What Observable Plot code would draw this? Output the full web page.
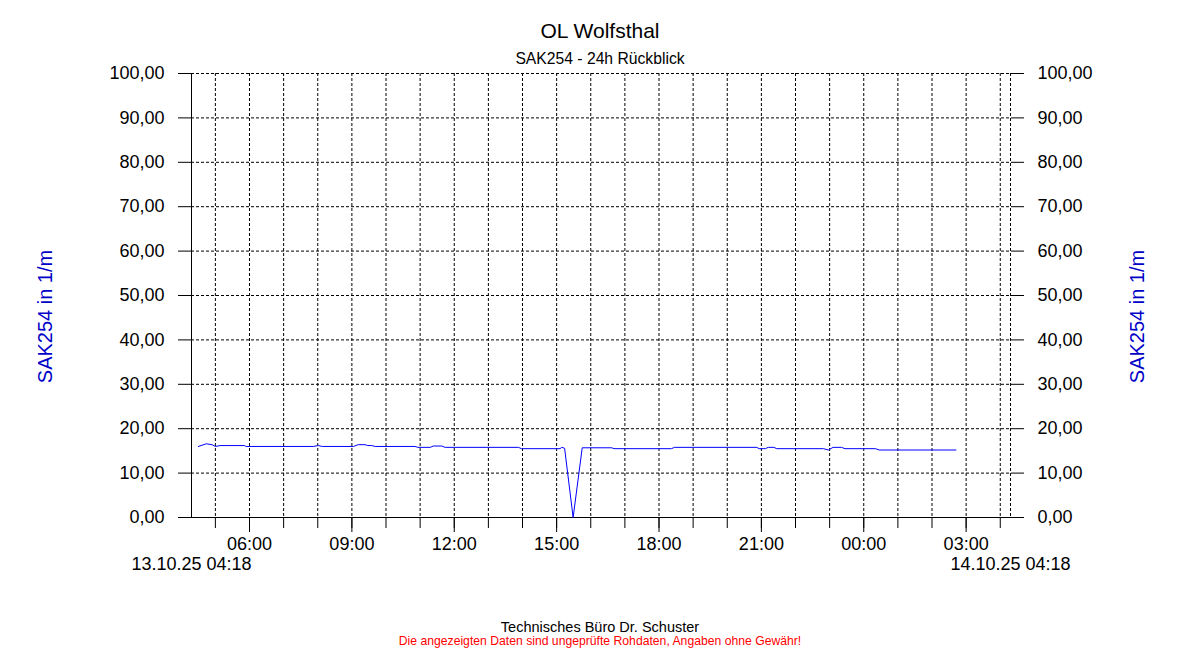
<!DOCTYPE html>
<html><head><meta charset="utf-8">
<script src="https://cdn.jsdelivr.net/npm/d3@7"></script>
<script src="https://cdn.jsdelivr.net/npm/@observablehq/plot@0.6"></script>
<style>
body{margin:0;background:#fff;font-family:"Liberation Sans",Arial,sans-serif;}
#wrap{position:relative;width:1200px;height:650px;overflow:hidden;}
#chart{position:absolute;left:0;top:0;}
.t{position:absolute;left:0;width:1200px;text-align:center;white-space:nowrap;line-height:1;}
</style></head><body>
<div id="wrap">
<div class="t" id="title" style="top:20px;font-size:21px;color:#000"></div>
<div class="t" id="subtitle" style="top:51px;font-size:15.7px;color:#000"></div>
<div class="t" id="foot1" style="top:620px;font-size:14.5px;color:#000"></div>
<div class="t" id="foot2" style="top:635px;font-size:12.2px;color:#FF0000"></div>
<div id="chart"></div>
</div>
<script>
const title = "OL Wolfsthal";
const subtitle = "SAK254 - 24h Rückblick";
const yLabel = "SAK254 in 1/m";
const footer1 = "Technisches Büro Dr. Schuster";
const footer2 = "Die angezeigten Daten sind ungeprüfte Rohdaten, Angaben ohne Gewähr!";
const startTime = "2025-10-13T04:18Z";
const endTime = "2025-10-14T04:18Z";
const startLabel = "13.10.25 04:18";
const endLabel = "14.10.25 04:18";
const yTicks = [0,10,20,30,40,50,60,70,80,90,100];

const times = ["2025-10-13T04:30","2025-10-13T04:44","2025-10-13T04:54","2025-10-13T05:00","2025-10-13T05:08","2025-10-13T05:51","2025-10-13T05:54","2025-10-13T07:52","2025-10-13T08:01","2025-10-13T08:08","2025-10-13T09:03","2025-10-13T09:11","2025-10-13T09:23","2025-10-13T09:28","2025-10-13T09:35","2025-10-13T09:41","2025-10-13T10:51","2025-10-13T10:56","2025-10-13T11:18","2025-10-13T11:23","2025-10-13T11:38","2025-10-13T11:44","2025-10-13T13:53","2025-10-13T13:58","2025-10-13T15:06","2025-10-13T15:09","2025-10-13T15:14","2025-10-13T15:29","2025-10-13T15:45","2025-10-13T16:37","2025-10-13T16:41","2025-10-13T18:22","2025-10-13T18:27","2025-10-13T20:52","2025-10-13T20:56","2025-10-13T21:07","2025-10-13T21:12","2025-10-13T21:22","2025-10-13T21:27","2025-10-13T22:49","2025-10-13T22:58","2025-10-13T23:06","2025-10-13T23:21","2025-10-13T23:27","2025-10-14T00:21","2025-10-14T00:27","2025-10-14T02:42"];
const values = [16.0,16.6,16.4,16.0,16.2,16.2,16.0,16.0,16.2,16.0,16.0,16.4,16.4,16.2,16.2,16.0,16.0,15.8,15.8,16.1,16.1,15.8,15.8,15.5,15.5,15.8,15.6,0,15.7,15.7,15.5,15.5,15.8,15.8,15.5,15.5,15.8,15.8,15.5,15.5,15.2,15.8,15.8,15.5,15.5,15.2,15.2];

document.getElementById("title").textContent = title;
document.getElementById("subtitle").textContent = subtitle;
document.getElementById("foot1").textContent = footer1;
document.getElementById("foot2").textContent = footer2;

const x0 = new Date(startTime), x1 = new Date(endTime);
const data = times.map((t, i) => ({t: new Date(t + "Z"), v: values[i]}));
const fmt = d => d.toFixed(2).replace(".", ",");
const hourTicks = d3.utcHour.range(x0, x1);
const labelTicks = d3.utcHour.every(3).range(x0, x1);
const ends = [{t: x0, label: startLabel}, {t: x1, label: endLabel}];
const dash = "3,2";

const chart = Plot.plot({
  width: 1200, height: 650,
  marginLeft: 191, marginRight: 190, marginTop: 73, marginBottom: 133,
  style: {fontFamily: "'Liberation Sans', Arial, sans-serif", background: "transparent", color: "black"},
  x: {type: "utc", domain: [x0, x1]},
  y: {domain: [0, 100]},
  marks: [
    Plot.gridY(yTicks, {stroke: "black", strokeOpacity: 1, strokeDasharray: dash}),
    Plot.gridX(hourTicks, {stroke: "black", strokeOpacity: 1, strokeDasharray: dash}),
    Plot.ruleX([x1], {stroke: "black", strokeDasharray: dash}),
    Plot.ruleX([x0], {stroke: "black"}),
    Plot.ruleY([0], {stroke: "black", insetLeft: -13, insetRight: -13}),
    Plot.axisY(yTicks, {anchor: "left", tickSize: 13, tickPadding: 14, tickFormat: fmt, fontSize: 18, label: null}),
    Plot.axisY(yTicks, {anchor: "right", tickSize: 13, tickPadding: 14, tickFormat: fmt, fontSize: 18, label: null}),
    Plot.axisX(hourTicks, {tickSize: 11, tickFormat: () => "", label: null}),
    Plot.axisX(labelTicks, {tickSize: 15, tickPadding: 5, tickFormat: d3.utcFormat("%H:%M"), fontSize: 18, label: null}),
    Plot.line(data, {x: "t", y: "v", stroke: "#0000FF", strokeWidth: 1}),
    Plot.text(ends, {x: "t", text: "label", frameAnchor: "bottom", dy: 52, fontSize: 18, fill: "black"}),
    Plot.text([yLabel], {frameAnchor: "left", textAnchor: "middle", dx: -146, dy: 21, rotate: -90, fontSize: 20, fill: "#0000C8"}),
    Plot.text([yLabel], {frameAnchor: "right", textAnchor: "middle", dx: 127, dy: 21, rotate: -90, fontSize: 20, fill: "#0000C8"})
  ]
});
document.getElementById("chart").appendChild(chart);
</script>
</body></html>
